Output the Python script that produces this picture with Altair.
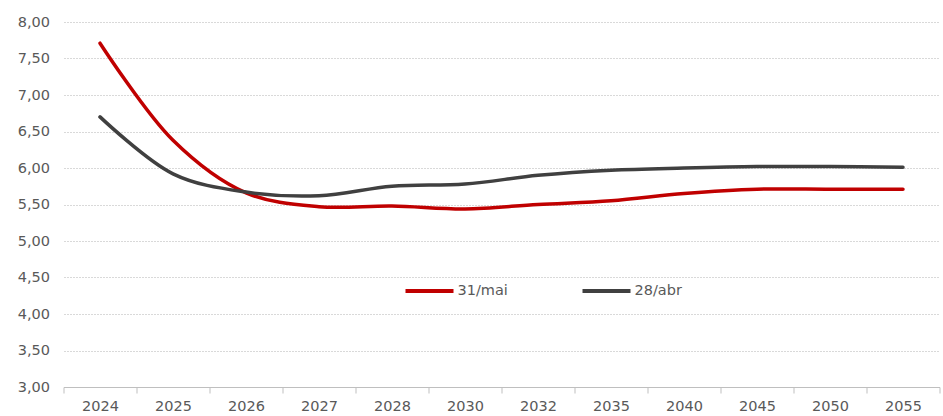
import altair as alt
import pandas as pd

years = ["2024", "2025", "2026", "2027", "2028", "2030", "2032", "2035", "2040", "2045", "2050", "2055"]
mai = [7.71, 6.38, 5.66, 5.47, 5.48, 5.44, 5.50, 5.55, 5.65, 5.71, 5.71, 5.71]
abr = [6.70, 5.92, 5.67, 5.62, 5.75, 5.78, 5.90, 5.97, 6.00, 6.02, 6.02, 6.01]
series = ["31/mai", "28/abr"]

rows = []
for y, v in zip(years, mai):
    rows.append({"ano": y, "valor": v, "serie": series[0]})
for y, v in zip(years, abr):
    rows.append({"ano": y, "valor": v, "serie": series[1]})
df = pd.DataFrame(rows)

font = "DejaVu Sans"
fs = 14.5
chart = alt.Chart(df).mark_line(interpolate="catmull-rom", strokeWidth=3.5, strokeCap="round").encode(
    x=alt.X("ano:N", sort=years, bandPosition=0.5,
            scale=alt.Scale(type="band", paddingInner=0, paddingOuter=0),
            axis=alt.Axis(title=None, labelAngle=0, tickBand="extent", grid=False,
                          domainColor="#bfbfbf", tickColor="#bfbfbf", tickSize=6,
                          labelColor="#595959", labelFontSize=fs, labelFont=font, labelPadding=6)),
    y=alt.Y("valor:Q", scale=alt.Scale(domain=[3, 8], nice=False, zero=False),
            axis=alt.Axis(title=None, values=[3, 3.5, 4, 4.5, 5, 5.5, 6, 6.5, 7, 7.5, 8],
                          labelExpr="replace(format(datum.value, '.2f'), '.', ',')",
                          domain=False, ticks=False, gridColor="#d9d9d9", gridDash=[2, 1],
                          labelColor="#595959", labelFontSize=fs, labelFont=font, labelPadding=14)),
    color=alt.Color("serie:N", sort=series,
                    scale=alt.Scale(domain=series, range=["#C00000", "#404040"]),
                    legend=alt.Legend(title=None, orient="none", legendX=340, legendY=243,
                                      direction="horizontal", symbolType="stroke",
                                      symbolSize=2304, symbolStrokeWidth=4,
                                      labelFontSize=fs, labelFont=font, labelColor="#595959",
                                      labelOffset=2, columnPadding=66))
).properties(
    width=876, height=365,
    autosize=alt.AutoSizeParams(type="none"),
    padding={"left": 63.5, "top": 22, "right": 3, "bottom": 29}
).configure_view(stroke=None)

chart.save("out.html", embed_options={"renderer": "svg", "actions": False})
